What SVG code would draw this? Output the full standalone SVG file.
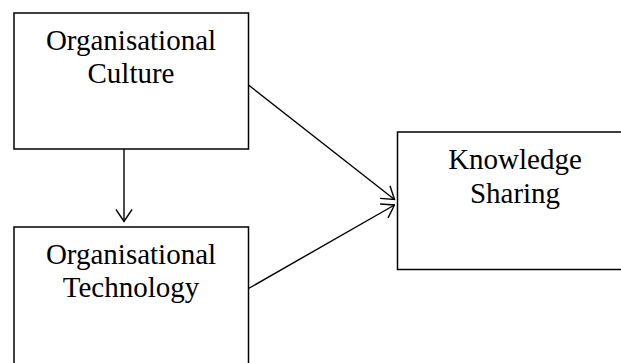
<svg xmlns="http://www.w3.org/2000/svg" width="621" height="363" viewBox="0 0 621 363">
<style>
.box{fill:#fff;stroke:#000;stroke-width:1.5}
.lbl{font-family:"Liberation Serif","Times New Roman",serif;font-size:29px;fill:#000;text-anchor:middle}
.edge{fill:none;stroke:#000;stroke-width:1.4}
</style>
<defs>
<marker id="arr" viewBox="0 0 14 18" refX="13" refY="9" markerWidth="14" markerHeight="18" markerUnits="userSpaceOnUse" orient="auto">
<path d="M1,1 L13,9 L1,17" fill="none" stroke="#000" stroke-width="1.4"/>
</marker>
</defs>
<g id="culture">
<rect class="box" x="14" y="13" width="234.5" height="136"/>
<text class="lbl" x="131" y="50">Organisational</text>
<text class="lbl" x="131" y="83">Culture</text>
</g>
<g id="technology">
<rect class="box" x="14" y="227" width="234.5" height="145"/>
<text class="lbl" x="131" y="263.5">Organisational</text>
<text class="lbl" x="131" y="297">Technology</text>
</g>
<g id="sharing">
<rect class="box" x="397.5" y="132" width="240" height="137.5"/>
<text class="lbl" x="515" y="168.5">Knowledge</text>
<text class="lbl" x="515" y="203">Sharing</text>
</g>
<g id="connectors">
<line class="edge" x1="124" y1="149" x2="124" y2="221.5" marker-end="url(#arr)"/>
<line class="edge" x1="248.5" y1="85" x2="394.5" y2="199.5" marker-end="url(#arr)"/>
<line class="edge" x1="248.5" y1="288.5" x2="394.5" y2="205" marker-end="url(#arr)"/>
</g>
</svg>
